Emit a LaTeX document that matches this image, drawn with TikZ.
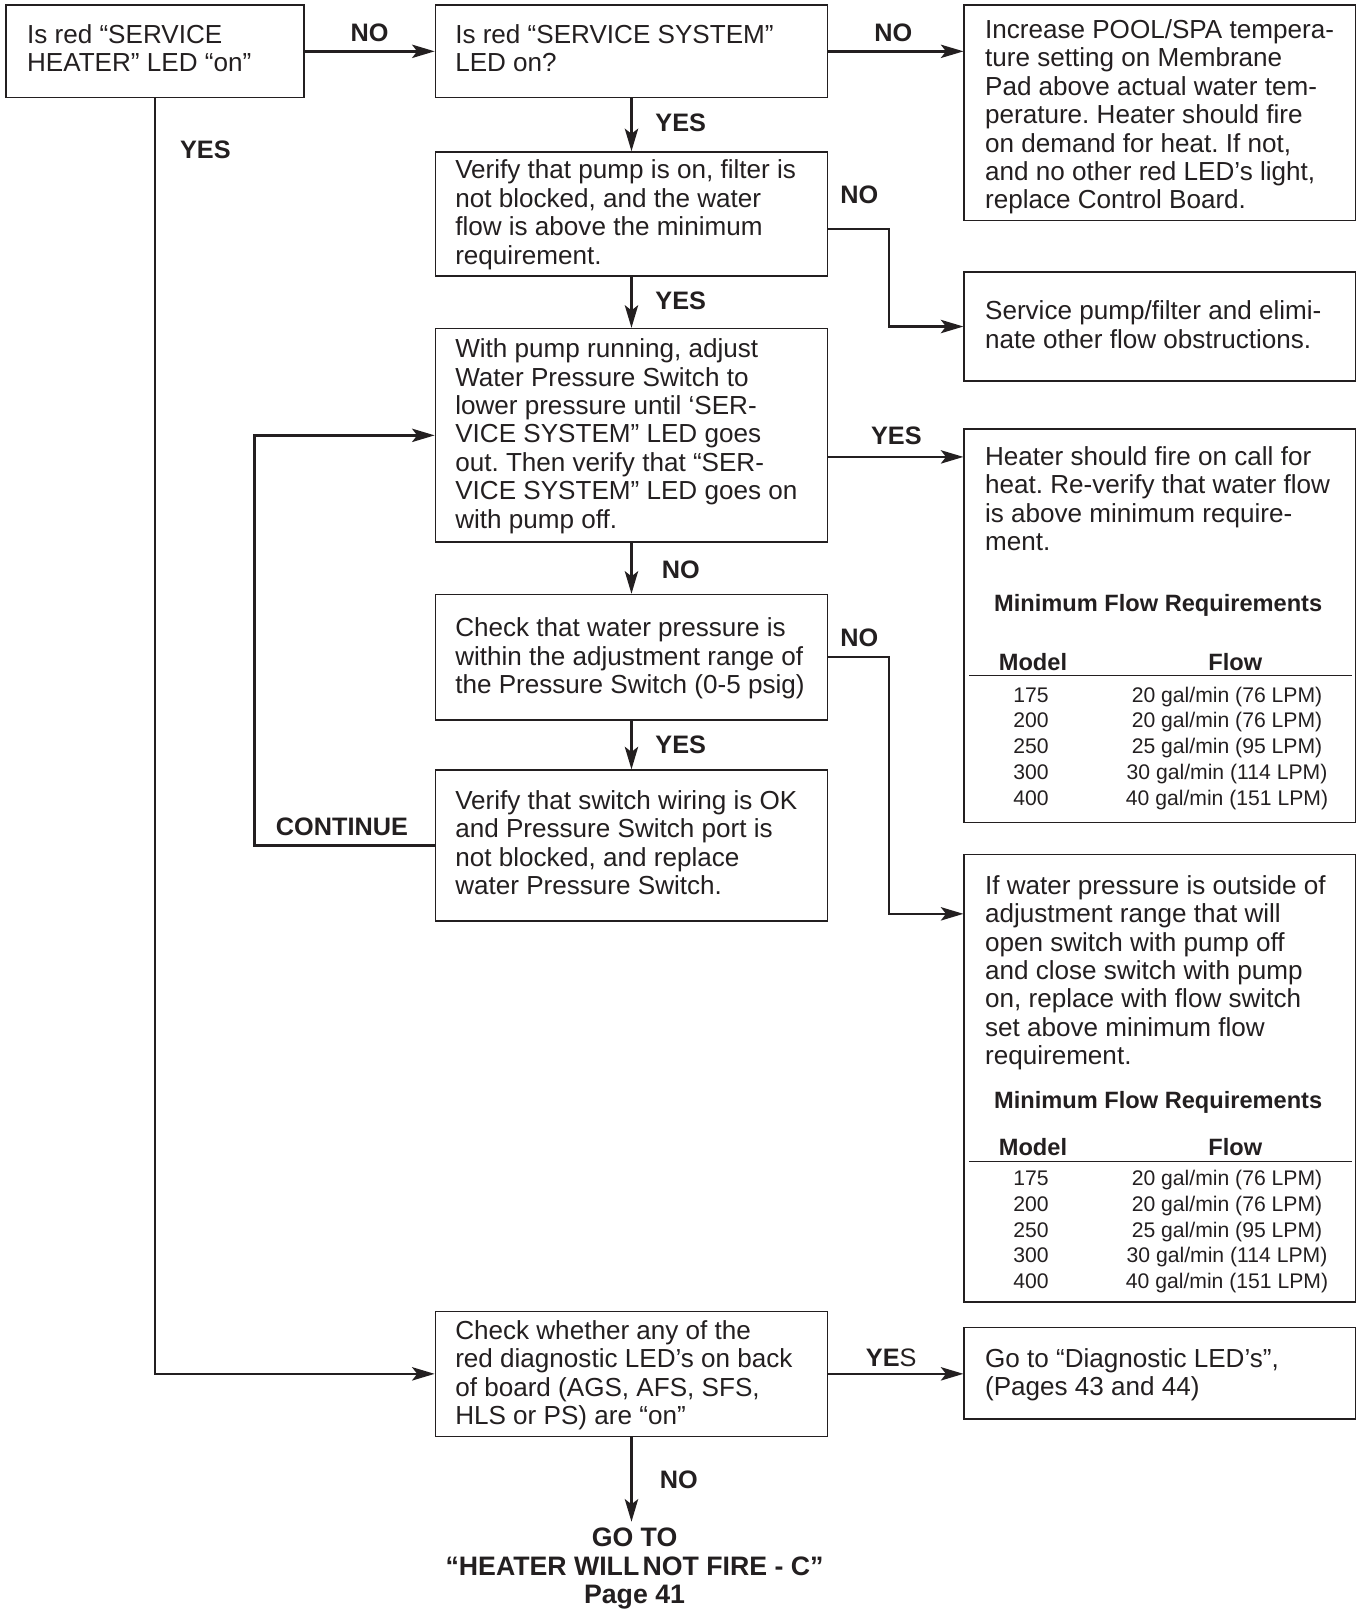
\documentclass[tikz,border=0pt]{standalone}
\usepackage{fontspec}
\setmainfont{Liberation Sans}
\usetikzlibrary{arrows.meta,fit}
\definecolor{ink}{RGB}{35,31,32}
\frenchspacing
\begin{document}
\frenchspacing
\begin{tikzpicture}[x=0.5pt,y=-0.5pt,
  box/.style={draw=ink, line width=0.7pt, inner sep=0pt},
  txt/.style={anchor=north west, inner sep=0pt, align=left, font=\frenchspacing\fontsize{12.7}{13.85}\selectfont, text=ink},
  lbl/.style={anchor=base, inner sep=0pt, font=\bfseries\fontsize{12.3}{14}\selectfont, text=ink},
  conn/.style={draw=ink, line width=1.2pt, -{Stealth[length=11pt,width=6.5pt,inset=2.5pt]}},
  tbv/.style={anchor=base, inner sep=0pt, font=\fontsize{10.3}{12}\selectfont, text=ink},
  tbh/.style={anchor=base, inner sep=0pt, font=\bfseries\fontsize{11.5}{13}\selectfont, text=ink},
  rule/.style={draw=ink, line width=0.7pt},
  endtxt/.style={anchor=north, inner sep=0pt, align=center, font=\bfseries\fontsize{13}{13.7}\selectfont, text=ink}]
\useasboundingbox (0,0) rectangle (1321,1568);

% boxes
\node[box, fit={(6,5) (296,95)}] (A) {};
\node[box, fit={(424,5) (806,95)}] (B) {};
\node[box, fit={(939,5) (1320,215)}] (C) {};
\node[box, fit={(424,148) (806,269)}] (D) {};
\node[box, fit={(939,265) (1320,371)}] (E) {};
\node[box, fit={(424,320) (806,528)}] (F) {};
\node[box, fit={(939,418) (1320,801)}] (G) {};
\node[box, fit={(424,579) (806,701)}] (H) {};
\node[box, fit={(939,832) (1320,1268)}] (I) {};
\node[box, fit={(424,750) (806,897)}] (J) {};
\node[box, fit={(424,1277) (806,1399)}] (K) {};
\node[box, fit={(939,1293) (1320,1382)}] (L) {};

% box texts
\node[txt] (tA) at (26,23.5) {Is red “SERVICE\\HEATER” LED “on”};
\node[txt] (tB) at (443,23.5) {Is red “SERVICE SYSTEM”\\LED on?};
\node[txt] (tC) at (959,18.5) {Increase POOL/SPA tempera-\\ture setting on Membrane\\Pad above actual water tem-\\perature. Heater should fire\\on demand for heat. If not,\\and no other red LED’s light,\\replace Control Board.};
\node[txt] (tD) at (443,155.5) {Verify that pump is on, filter is\\not blocked, and the water\\flow is above the minimum\\requirement.};
\node[txt] (tE) at (959,292.5) {Service pump/filter and elimi-\\nate other flow obstructions.};
\node[txt] (tF) at (443,329.5) {With pump running, adjust\\Water Pressure Switch to\\lower pressure until ‘SER-\\VICE SYSTEM” LED goes\\out. Then verify that “SER-\\VICE SYSTEM” LED goes on\\with pump off.};
\node[txt] (tG) at (959,434.5) {Heater should fire on call for\\heat. Re-verify that water flow\\is above minimum require-\\ment.};
\node[txt] (tH) at (443,601.5) {Check that water pressure is\\within the adjustment range of\\the Pressure Switch (0-5 psig)};
\node[txt] (tI) at (959,852) {If water pressure is outside of\\adjustment range that will\\open switch with pump off\\and close switch with pump\\on, replace with flow switch\\set above minimum flow\\requirement.};
\node[txt] (tJ) at (443,769.5) {Verify that switch wiring is OK\\and Pressure Switch port is\\not blocked, and replace\\water Pressure Switch.};
\node[txt] (tK) at (443,1285.5) {Check whether any of the\\red diagnostic LED’s on back\\of board (AGS, AFS, SFS,\\HLS or PS) are “on”};
\node[txt] (tL) at (959,1313) {Go to “Diagnostic LED’s”,\\(Pages 43 and 44)};

% tables
\node[tbh] (g-h) at (1128,596) {Minimum Flow Requirements};
\node[tbh] (g-m) at (1006,653) {Model};
\node[tbh] (g-f) at (1203,653) {Flow};
\draw[rule] (944,658) -- (1317,658);
\node[tbh] (i-h) at (1128,1080) {Minimum Flow Requirements};
\node[tbh] (i-m) at (1006,1125) {Model};
\node[tbh] (i-f) at (1203,1125) {Flow};
\draw[rule] (944,1131) -- (1317,1131);
\foreach \m/\f [count=\k from 0] in {175/{20 gal/min (76 LPM)},200/{20 gal/min (76 LPM)},250/{25 gal/min (95 LPM)},300/{30 gal/min (114 LPM)},400/{40 gal/min (151 LPM)}}{
  \node[tbv] (g-m\k) at (1004,684+25*\k) {\m};
  \node[tbv] (g-f\k) at (1195,684+25*\k) {\f};
  \node[tbv] (i-m\k) at (1004,1155+25*\k) {\m};
  \node[tbv] (i-f\k) at (1195,1155+25*\k) {\f};
}

% end text
\node[endtxt] (goto) at (618,1488) {GO TO\\“HEATER WILL\hspace{0.12em}NOT FIRE - C”\\Page 41};

% helper coordinates
\coordinate (d1) at (866,223);
\coordinate (f1) at (806,445);
\coordinate (h1) at (866,890);
\coordinate (c1) at (248,424);
\coordinate (e1) at (615,1482);

% connectors
\draw[conn] (A.east) -- (B.west);
\draw[conn] (B.east) -- (B.east -| C.west);
\draw[conn] (B.south) -- (D.north);
\draw[conn] (D.east |- d1) -- (d1) |- (E.west);
\draw[conn] (D.south) -- (F.north);
\draw[conn] (f1) -- (f1 -| G.west);
\draw[conn] (F.south) -- (H.north);
\draw[conn] (H.east) -| (h1) -- (h1 -| I.west);
\draw[conn] (H.south) -- (J.north);
\draw[conn] (J.west) -| (c1) -- (F.west);
\draw[conn] (A.south) |- (K.west);
\draw[conn] (K.east) -- (K.east -| L.west);
\draw[conn] (K.south) -- (K.south |- e1);

% labels
\node[lbl] (l1) at (360,40) {NO};
\node[lbl] (l2) at (870,40) {NO};
\node[lbl] (l3) at (663,128) {YES};
\node[lbl] (l4) at (837,198) {NO};
\node[lbl] (l5) at (663,301) {YES};
\node[lbl] (l6) at (873,433) {YES};
\node[lbl] (l7) at (663,563) {NO};
\node[lbl] (l8) at (837,630) {NO};
\node[lbl] (l9) at (663,734) {YES};
\node[lbl] (l10) at (333,814) {CONTINUE};
\node[lbl] (l11) at (200,154) {YES};
\node[lbl] (l12) at (868,1331) {YE{\mdseries S}};
\node[lbl] (l13) at (661,1450) {NO};
\end{tikzpicture}
\end{document}
